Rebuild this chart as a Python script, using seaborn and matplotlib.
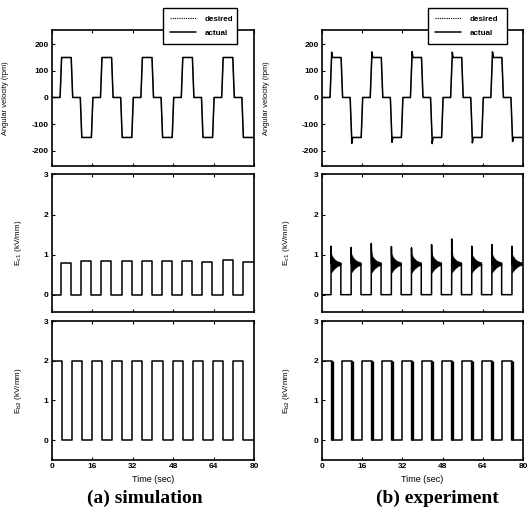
import numpy as np
import pandas as pd
import matplotlib
matplotlib.use("Agg")
import matplotlib.pyplot as plt
import seaborn as sns

# ---------------- data ----------------
# angular velocity reference: breakpoints (sec) and values (rpm)
vel_t = [0, 3.2, 3.8, 7.6, 8.2, 11.2, 11.8, 15.6, 16.2,
         19.2, 19.8, 23.6, 24.2, 27.2, 27.8, 31.6, 32.2,
         35.2, 35.8, 39.6, 40.2, 43.2, 43.8, 47.6, 48.2,
         51.2, 51.8, 55.6, 56.2, 59.2, 59.8, 63.6, 64.2,
         67.2, 67.8, 71.6, 72.2, 75.2, 75.8, 80]
vel_desired = [0, 0, 150, 150, 0, 0, -150, -150, 0,
               0, 150, 150, 0, 0, -150, -150, 0,
               0, 150, 150, 0, 0, -150, -150, 0,
               0, 150, 150, 0, 0, -150, -150, 0,
               0, 150, 150, 0, 0, -150, -150]
vel_sim_actual = list(vel_desired)
# experiment: overshoot peaks at the start of each plateau (rpm)
vel_exp_plateau_start = [3.8, 11.8, 19.8, 27.8, 35.8, 43.8, 51.8, 59.8, 67.8, 75.8]
vel_exp_peak = [170, -172, 171, -168, 172, -173, 170, -170, 171, -165]
vel_exp_level = [150, -150, 150, -150, 150, -150, 150, -150, 150, -150]

# E_c1 pulses
ec1_rise = [3.6, 11.6, 19.6, 27.6, 35.6, 43.6, 51.6, 59.6, 67.6, 75.6]
ec1_fall = [7.5, 15.5, 23.5, 31.5, 39.5, 47.5, 55.5, 63.5, 71.5, 80.0]
ec1_sim_level = [0.80, 0.84, 0.84, 0.83, 0.85, 0.84, 0.84, 0.82, 0.86, 0.82]
ec1_exp_peak = [1.21, 1.18, 1.28, 1.20, 1.17, 1.25, 1.39, 1.21, 1.25, 1.21]
ec1_exp_level = [0.77, 0.76, 0.77, 0.77, 0.76, 0.77, 0.77, 0.76, 0.77, 0.76]
# oscillation band after each rise (offset sec, upper, lower)
band_dt = [0.05, 0.4, 0.9, 1.5, 2.1, 2.8, 3.4, 3.85]
band_hi = [1.02, 0.97, 0.92, 0.88, 0.85, 0.83, 0.82, 0.81]
band_lo = [0.55, 0.58, 0.62, 0.66, 0.69, 0.72, 0.73, 0.74]

# E_b2 pulses (starts high)
eb2_fall = [3.8, 11.8, 19.8, 27.8, 35.8, 43.8, 51.8, 59.8, 67.8, 75.8]
eb2_rise = [7.8, 15.8, 23.8, 31.8, 39.8, 47.8, 55.8, 63.8, 71.8]
eb2_level = 2.0

x_ticks = [0, 16, 32, 48, 64, 80]
vel_ticks = [-200, -100, 0, 100, 200]
e_ticks = [0, 1, 2, 3]
captions = ["(a) simulation", "(b) experiment"]

# ---------------- build series ----------------
def ec1_series(levels):
    t, v = [0], [0]
    for i, (r, f) in enumerate(zip(ec1_rise, ec1_fall)):
        t += [r, r, f]
        v += [0, levels[i], levels[i]]
        if i < len(ec1_rise) - 1:
            t.append(f); v.append(0)
    return t, v

def ec1_exp_series():
    t, v = [0], [0]
    for i, (r, f) in enumerate(zip(ec1_rise, ec1_fall)):
        t += [r, r + 0.02, r + 0.15, f]
        v += [0, ec1_exp_peak[i], ec1_exp_level[i], ec1_exp_level[i]]
        if i < len(ec1_rise) - 1:
            t.append(f); v.append(0)
    return t, v

def eb2_series():
    t, v = [0], [eb2_level]
    for i, f in enumerate(eb2_fall):
        t += [f, f]
        v += [eb2_level, 0]
        if i < len(eb2_rise):
            t += [eb2_rise[i], eb2_rise[i]]
            v += [0, eb2_level]
    t.append(80); v.append(0)
    return t, v

def vel_exp_series():
    t, v = list(vel_t), list(vel_desired)
    for s, p, lv in zip(vel_exp_plateau_start, vel_exp_peak, vel_exp_level):
        idx = t.index(s)
        t.insert(idx + 1, s + 0.05); v.insert(idx + 1, p)
        t.insert(idx + 2, s + 0.4); v.insert(idx + 2, lv)
    return t, v

# ---------------- styling ----------------
sns.set_theme(style="ticks")
plt.rcParams["font.family"] = ["Liberation Sans", "DejaVu Sans"]
plt.rcParams["mathtext.default"] = "regular"
plt.rcParams["axes.unicode_minus"] = False
plt.rcParams["text.color"] = "black"
plt.rcParams["axes.labelcolor"] = "black"

fig = plt.figure(figsize=(5.27, 5.20), dpi=100)
W, H = 527, 520

def add_ax(x0, x1, y0, y1):
    return fig.add_axes([x0 / W, 1 - y1 / H, (x1 - x0) / W, (y1 - y0) / H])

cols = [(52, 254), (322, 523)]
rows = [(29.5, 166), (174.5, 311.5), (321, 460)]

tick_kw = dict(direction="in", length=2.5, width=0.8, labelsize=6, pad=2.5,
               colors="black")

for c, (x0, x1) in enumerate(cols):
    axes = [add_ax(x0, x1, y0, y1) for (y0, y1) in rows]
    ax_v, ax_c, ax_b = axes

    # velocity
    sns.lineplot(x=vel_t, y=vel_desired, ax=ax_v, color="black", lw=0.8,
                 ls=(0, (1, 1)), sort=False, estimator=None, label="desired")
    if c == 0:
        vt, vv = vel_t, vel_sim_actual
    else:
        vt, vv = vel_exp_series()
    sns.lineplot(x=vt, y=vv, ax=ax_v, color="black", lw=1.1,
                 sort=False, estimator=None, label="actual")
    ax_v.set_ylim(-257, 255)
    ax_v.set_yticks(vel_ticks)
    ax_v.set_ylabel("Angular velocity (rpm)", fontsize=5.4, color="black")

    # E_c1
    if c == 0:
        ct, cv = ec1_series(ec1_sim_level)
        sns.lineplot(x=ct, y=cv, ax=ax_c, color="black", lw=1.1,
                     sort=False, estimator=None)
    else:
        ct, cv = ec1_exp_series()
        sns.lineplot(x=ct, y=cv, ax=ax_c, color="black", lw=1.1,
                     sort=False, estimator=None)
        for i, r in enumerate(ec1_rise):
            bt = [r + d for d in band_dt if r + d <= 80]
            n = len(bt)
            hi = list(band_hi[:n]); hi[0] = max(hi[0], ec1_exp_peak[i] - 0.2)
            ax_c.fill_between(bt, band_lo[:n], hi, color="black", lw=0.3,
                              edgecolor="black")
    ax_c.set_ylim(-0.42, 3)
    ax_c.set_yticks(e_ticks)
    ax_c.set_ylabel("E$_{\\rm c1}$ (kV/mm)", fontsize=5.8, color="black")

    # E_b2
    bt_, bv_ = eb2_series()
    sns.lineplot(x=bt_, y=bv_, ax=ax_b, color="black", lw=1.1,
                 sort=False, estimator=None)
    if c == 1:
        ax_b.vlines(eb2_fall, 0, eb2_level, color="black", lw=2.4)
    ax_b.set_ylim(-0.5, 3)
    ax_b.set_yticks(e_ticks)
    ax_b.set_ylabel("E$_{\\rm b2}$ (kV/mm)", fontsize=5.8, color="black")

    for ax in axes:
        ax.set_xlim(0, 80)
        ax.set_xticks(x_ticks)
        ax.tick_params(axis="both", top=True, **tick_kw)
        for lab in ax.get_yticklabels():
            lab.set_fontweight("bold")
        for sp in ax.spines.values():
            sp.set_linewidth(1.2)
            sp.set_color("black")
            sp.set_visible(True)
        ax.set_facecolor("white")
    for ax in (ax_v, ax_c):
        ax.set_xlabel("")
        ax.tick_params(axis="x", labelbottom=False)
    for lab in ax_b.get_xticklabels():
        lab.set_fontweight("bold")
    ax_b.set_xlabel("Time (sec)", fontsize=6.5, labelpad=3.5, color="black")

    # ylabel positions
    if c == 0:
        ax_v.yaxis.set_label_coords(-0.215, 0.5)
        ax_c.yaxis.set_label_coords(-0.14, 0.5)
        ax_b.yaxis.set_label_coords(-0.14, 0.5)
        lx, lw_ = 0.55, 0.366
    else:
        ax_v.yaxis.set_label_coords(-0.26, 0.5)
        ax_c.yaxis.set_label_coords(-0.15, 0.5)
        ax_b.yaxis.set_label_coords(-0.15, 0.5)
        lx, lw_ = 0.527, 0.392

    leg = ax_v.legend(loc="upper left", bbox_to_anchor=(lx, 1.155, lw_, 0.0),
                      mode="expand", fontsize=5.8, frameon=True, fancybox=False,
                      framealpha=1, edgecolor="black", borderpad=0.85,
                      labelspacing=0.8, handlelength=3.2, handletextpad=1.1,
                      borderaxespad=0)
    leg.get_frame().set_linewidth(1.0)
    leg.set_zorder(10)
    for txt in leg.get_texts():
        txt.set_fontweight("bold")
        txt.set_color("black")

    fig.text([145, 437][c] / W, 1 - 498 / H, captions[c], ha="center",
             va="center", family=["Liberation Serif", "DejaVu Serif"],
             fontweight="bold", fontsize=14, color="black")

fig.savefig("out.png", dpi=100, facecolor="white")
